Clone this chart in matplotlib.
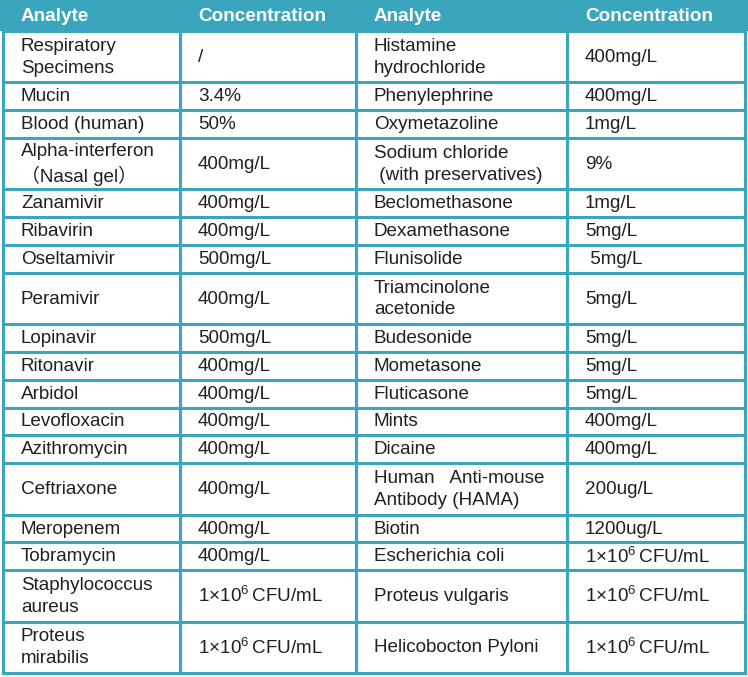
import matplotlib
matplotlib.use("Agg")
import matplotlib.pyplot as plt
from matplotlib.patches import Rectangle

plt.rcParams['font.family'] = ['Liberation Sans', 'Noto Sans CJK SC', 'DejaVu Sans']
plt.rcParams['mathtext.default'] = 'regular'

TEAL = "#3aa6be"
INK = "#231f20"
CFU = r"1×10$^{6}\,$CFU/mL"

headers = ["Analyte", "Concentration", "Analyte", "Concentration"]

analyte_left = ["Respiratory\nSpecimens", "Mucin", "Blood (human)",
                "Alpha-interferon\n（Nasal gel）", "Zanamivir", "Ribavirin",
                "Oseltamivir", "Peramivir", "Lopinavir", "Ritonavir", "Arbidol",
                "Levofloxacin", "Azithromycin", "Ceftriaxone", "Meropenem",
                "Tobramycin", "Staphylococcus\naureus", "Proteus\nmirabilis"]
conc_left = ["/", "3.4%", "50%", "400mg/L", "400mg/L", "400mg/L", "500mg/L",
             "400mg/L", "500mg/L", "400mg/L", "400mg/L", "400mg/L", "400mg/L",
             "400mg/L", "400mg/L", "400mg/L", CFU, CFU]
analyte_right = ["Histamine\nhydrochloride", "Phenylephrine", "Oxymetazoline",
                 "Sodium chloride\n (with preservatives)", "Beclomethasone",
                 "Dexamethasone", "Flunisolide", "Triamcinolone\nacetonide",
                 "Budesonide", "Mometasone", "Fluticasone", "Mints", "Dicaine",
                 "Human   Anti-mouse\nAntibody (HAMA)", "Biotin",
                 "Escherichia coli", "Proteus vulgaris", "Helicobocton Pyloni"]
conc_right = ["400mg/L", "400mg/L", "1mg/L", "9%", "1mg/L", "5mg/L", " 5mg/L",
              "5mg/L", "5mg/L", "5mg/L", "5mg/L", "400mg/L", "400mg/L",
              "200ug/L", "1200ug/L", CFU, CFU, CFU]

W, H = 748, 677
col_edges = [3, 180, 356, 567, 745]
header_h = 31
single_h, double_h = 27.8, 51.4
pad = 18

fig = plt.figure(figsize=(W / 100, H / 100), dpi=100)
ax = fig.add_axes([0, 0, 1, 1])
ax.set_xlim(0, W)
ax.set_ylim(H, 0)
ax.axis('off')

# header band
ax.add_patch(Rectangle((0, 0), W, header_h, color=TEAL, lw=0))
for i, h in enumerate(headers):
    ax.text(col_edges[i] + pad, header_h / 2 + 1, h, color="white",
            fontsize=13.6, fontweight="bold", va="center", ha="left")

# body rows
columns = [analyte_left, conc_left, analyte_right, conc_right]
y = header_h
bounds = [y]
for r in range(len(analyte_left)):
    lines = max(c[r].count("\n") + 1 for c in columns)
    h = double_h if lines > 1 else single_h
    yc = y + h / 2
    for i, col in enumerate(columns):
        ax.text(col_edges[i] + pad, yc + 0.5, col[r], color=INK, fontsize=13.6,
                va="center", ha="left", linespacing=1.38)
    y += h
    bounds.append(y)

lw = 2.2
for b in bounds:
    ax.plot([col_edges[0], col_edges[-1]], [b, b], color=TEAL, lw=lw,
            solid_capstyle="projecting")
for x in col_edges:
    ax.plot([x, x], [header_h, bounds[-1]], color=TEAL, lw=lw,
            solid_capstyle="projecting")

fig.savefig("out.png", dpi=100, facecolor="white")
